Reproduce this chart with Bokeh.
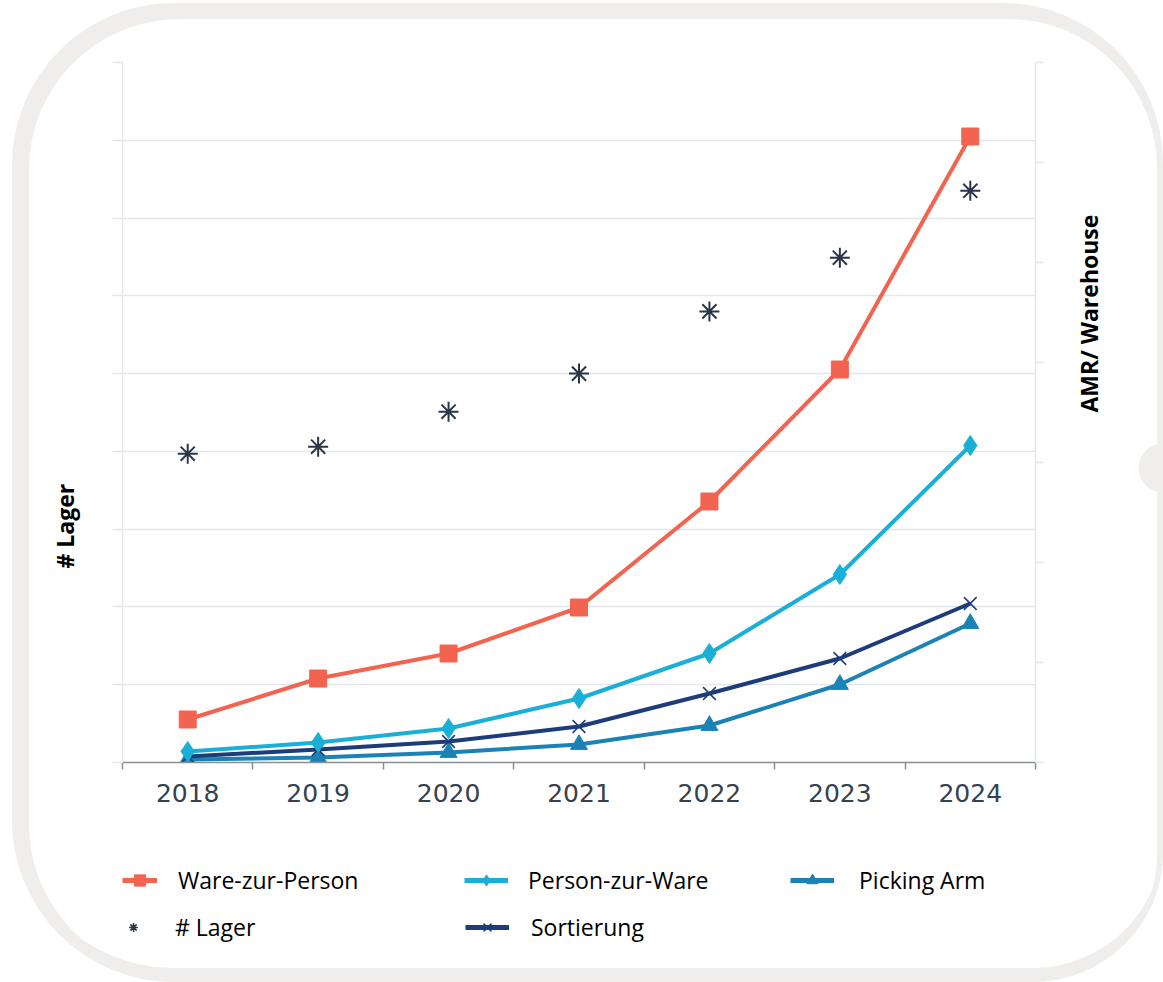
import math
from bokeh.plotting import figure
from bokeh.layouts import column
from bokeh.models import (Range1d, LinearAxis, FixedTicker, SingleIntervalTicker,
                          CustomJSTickFormatter, NumeralTickFormatter, Legend, LegendItem,
                          Title, ColumnDataSource)
from bokeh.embed import file_html
from bokeh.resources import INLINE

# ---------------- data ----------------
years = [2018, 2019, 2020, 2021, 2022, 2023, 2024]
lager = [39.7, 40.6, 45.1, 50.0, 58.0, 64.9, 73.5]              # left axis  (# Lager)
ware_zur_person = [4.3, 8.4, 10.9, 15.5, 26.1, 39.3, 62.6]      # right axis (AMR/ Warehouse)
person_zur_ware = [1.1, 2.0, 3.4, 6.4, 10.9, 18.8, 31.7]
sortierung = [0.6, 1.3, 2.1, 3.6, 6.9, 10.4, 15.9]
picking_arm = [0.3, 0.5, 1.0, 1.8, 3.7, 7.8, 13.9]

left_label = "# Lager"
right_label = "AMR/ Warehouse"

# ---------------- styling ----------------
C_WARE = "#F2644F"
C_PERS = "#1AAFD6"
C_SORT = "#1C3D7A"
C_PICK = "#1B82B6"
C_LAGER = "#2B3648"
C_GRID = "#E3E6EA"
C_AXIS = "#8A8F96"
RING = "#EFEEEC"

W = 1151
H1 = 842      # chart
H2 = 137      # legend strip
BLANK = CustomJSTickFormatter(code="return ''")

src = ColumnDataSource(dict(year=years, lager=lager, wzp=ware_zur_person,
                            pzw=person_zur_ware, sort=sortierung, pick=picking_arm))

p = figure(width=W, height=H1, output_backend="svg", toolbar_location=None,
           x_range=Range1d(years[0] - 0.5, years[-1] + 0.5), y_range=Range1d(0, 90),
           min_border_left=110, min_border_right=128, min_border_top=59,
           min_border_bottom=83)
p.extra_y_ranges = {"amr": Range1d(0, 70)}
p.border_fill_color = None
p.background_fill_color = "white"
p.outline_line_color = None

# x axis: labels at category centres, ticks at category boundaries
p.xaxis.ticker = FixedTicker(ticks=years,
                             minor_ticks=[y - 0.5 for y in years] + [years[-1] + 0.5])
p.xaxis.formatter = NumeralTickFormatter(format="0")
p.xaxis.major_tick_out = 0
p.xaxis.major_tick_in = 0
p.xaxis.minor_tick_out = 7
p.xaxis.minor_tick_in = 0
p.xaxis.minor_tick_line_color = C_AXIS
p.xaxis.minor_tick_line_width = 1.5
p.xaxis.axis_line_color = C_AXIS
p.xaxis.axis_line_width = 1.5
p.xaxis.major_label_text_font = "DejaVu Sans"
p.xaxis.major_label_text_font_size = "25px"
p.xaxis.major_label_text_color = "#36414F"
p.xaxis.major_label_standoff = 14
p.xgrid.visible = False

# left axis
p.yaxis.ticker = SingleIntervalTicker(interval=10)
p.yaxis.formatter = BLANK
p.yaxis.major_tick_out = 10
p.yaxis.major_tick_in = 0
p.yaxis.major_tick_line_color = C_GRID
p.yaxis.major_tick_line_width = 1.5
p.yaxis.minor_tick_line_color = None
p.yaxis.axis_line_color = C_GRID
p.yaxis.axis_line_width = 1.5
p.yaxis.major_label_standoff = 0
p.ygrid.ticker = SingleIntervalTicker(interval=10)
p.ygrid.grid_line_color = C_GRID
p.ygrid.grid_line_width = 1.5

# right axis: line and ticks
ra = LinearAxis(y_range_name="amr", ticker=SingleIntervalTicker(interval=10), formatter=BLANK)
ra.major_tick_out = 8
ra.major_tick_in = 0
ra.major_tick_line_color = C_GRID
ra.major_tick_line_width = 1.5
ra.minor_tick_line_color = None
ra.axis_line_color = C_GRID
ra.axis_line_width = 1.5
ra.major_label_standoff = 0
p.add_layout(ra, "right")

# right axis title ("AMR/ Warehouse"), carried by a bare axis whose bounds set its position
rt = LinearAxis(y_range_name="amr", ticker=SingleIntervalTicker(interval=10), formatter=BLANK,
                bounds=(0, 40.4))
rt.major_tick_out = 0
rt.major_tick_in = 0
rt.major_tick_line_color = None
rt.minor_tick_line_color = None
rt.axis_line_color = None
rt.major_label_standoff = 0
rt.axis_label = right_label
rt.axis_label_standoff = 41
rt.axis_label_text_font = "Open Sans"
rt.axis_label_text_font_style = "bold"
rt.axis_label_text_font_size = "23px"
rt.axis_label_text_color = "black"
if "axis_label_orientation" in rt.properties():
    rt.axis_label_orientation = math.pi / 2
p.add_layout(rt, "right")

# left title
p.add_layout(Title(text=left_label, align="left", offset=194, standoff=62,
                   vertical_align="middle", text_font="Open Sans", text_font_style="bold",
                   text_font_size="23px", text_color="black"), "left")

# ---------------- series ----------------
styles = {
    "pick": dict(color=C_PICK, marker="triangle", size=17, mlw=1),
    "sort": dict(color=C_SORT, marker="x", size=18, mlw=1.5),
    "pzw": dict(color=C_PERS, marker="diamond", size=20, mlw=1),
    "wzp": dict(color=C_WARE, marker="square", size=17, mlw=1),
}
for key in ["pick", "sort", "pzw", "wzp"]:
    st = styles[key]
    p.line("year", key, source=src, y_range_name="amr", line_color=st["color"], line_width=4)
    p.scatter("year", key, source=src, y_range_name="amr", marker=st["marker"],
              size=st["size"], fill_color=st["color"], line_color=st["color"],
              line_width=st["mlw"])
p.scatter("year", "lager", source=src, marker="asterisk", size=20,
          line_color=C_LAGER, line_width=2)

# ---------------- legend strip (own figure, legends inside its frame) ----------------
pl = figure(width=W, height=H2, output_backend="svg", toolbar_location=None,
            x_range=Range1d(0, 1), y_range=Range1d(0, 1),
            x_axis_location=None, y_axis_location=None,
            min_border_left=0, min_border_right=0, min_border_top=0, min_border_bottom=0)
pl.grid.visible = False
pl.border_fill_color = None
pl.background_fill_color = None
pl.outline_line_color = None


def proxy(key):
    # hidden copies of the chart's renderers, used only to draw the legend keys
    st = styles[key]
    ln = pl.line("year", key, source=src, line_color=st["color"], line_width=5, visible=False)
    mk = pl.scatter("year", key, source=src, marker=st["marker"], fill_color=st["color"],
                    line_color=st["color"], line_width=st["mlw"], visible=False)
    return [ln, mk]


lager_proxy = [pl.scatter("year", "lager", source=src, marker="asterisk",
                          line_color=C_LAGER, line_width=1.5, visible=False)]

legend_specs = [
    # label, renderers, x, y, glyph width, standoff
    ("Ware-zur-Person", proxy("wzp"), 0, 86, 35, 21),
    ("Person-zur-Ware", proxy("pzw"), 342, 86, 44, 20),
    ("Picking Arm", proxy("pick"), 668, 86, 44, 25),
    ("# Lager", lager_proxy, 0, 39, 22, 31),
    ("Sortierung", proxy("sort"), 343, 39, 44, 22),
]
for lab, rends, lx, ly, gw, so in legend_specs:
    lg = Legend(items=[LegendItem(label=lab, renderers=rends)], location=(lx, ly),
                glyph_width=gw, glyph_height=28, label_height=31, label_standoff=so,
                padding=0, margin=0, spacing=0, border_line_color=None,
                background_fill_alpha=0, inactive_fill_alpha=0,
                label_text_font="Open Sans", label_text_font_size="23px",
                label_text_color="black")
    pl.add_layout(lg, "center")

layout = column(p, pl, spacing=0)
layout.margin = (3, 0, 0, 12)
layout.styles = {
    "border-radius": "162px 160px 130px 162px",
    "box-shadow": "inset 5.5px 4.5px 0px 11.5px " + RING + ", inset 0px -14px 0px 0px " + RING,
    "background": "radial-gradient(circle 25px at 1151px 465px, " + RING + " 96%, rgba(239,238,236,0) 100%)",
}

open("out.html", "w").write(file_html(layout, INLINE))
